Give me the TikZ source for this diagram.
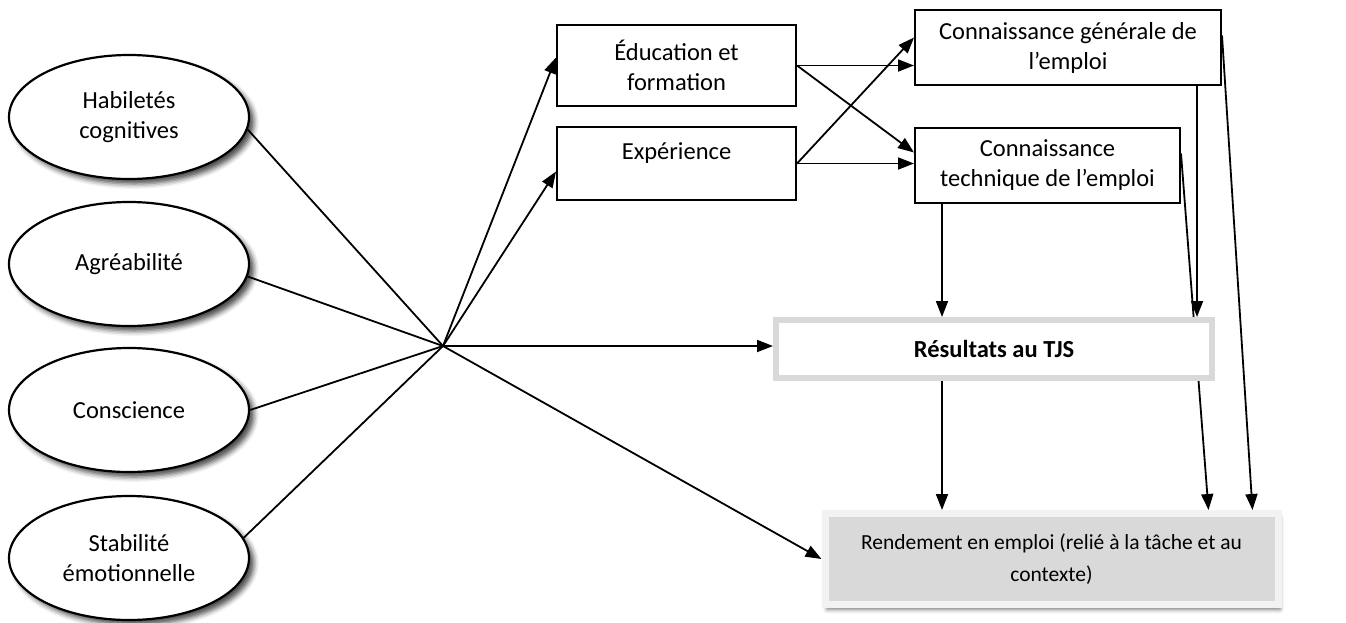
\documentclass[tikz,border=0pt]{standalone}
\usepackage{fontspec}
\setmainfont{Carlito}
\usetikzlibrary{arrows.meta,shapes.geometric,calc,shadows.blur}
\pgfdeclarelayer{background}
\pgfsetlayers{background,main}
\begin{document}
\begin{tikzpicture}[x=1pt,y=-1pt,
  font=\fontsize{24.5}{30}\selectfont,
  trait/.style={ellipse,draw,line width=2.2pt,fill=white,minimum width=240pt,minimum height=124pt,inner sep=0pt,align=center,
    blur shadow={shadow xshift=5pt,shadow yshift=-5pt,shadow blur radius=5pt,shadow opacity=70}},
  boxn/.style={rectangle,draw,line width=2pt,fill=white,align=center,inner sep=0pt},
  conn/.style={line width=1.8pt},
  arr/.style={conn,-{Triangle[length=16pt,width=12pt]}},
]
\useasboundingbox (0,0) rectangle (1346,622);

\node[trait] (e1) at (129,117) {Habiletés\\cognitives};
\node[trait] (e2) at (129,264) {Agréabilité};
\node[trait] (e3) at (129,410) {Conscience};
\node[trait] (e4) at (129,558) {Stabilité\\émotionnelle};
\coordinate (hub) at (443,346);

\node[boxn,minimum width=239pt,minimum height=81pt] (edu) at (676.5,65.5) {Éducation et\\formation};
\node[boxn,minimum width=239pt,minimum height=73pt] (exp) at (676.5,163.5) {\raisebox{10pt}[\height][\depth]{Expérience}};
\node[boxn,minimum width=306pt,minimum height=75pt] (cg) at (1068,47.5) {Connaissance générale de\\l’emploi};
\node[boxn,minimum width=265pt,minimum height=75pt] (ct) at (1047.5,165.5) {Connaissance\\technique de l’emploi};

\node[rectangle,draw=black!15,line width=6pt,fill=white,minimum width=436pt,minimum height=58pt,
  font=\fontsize{24.5}{30}\selectfont\bfseries] (tjs) at (994,349) {Résultats au TJS};
\node[rectangle,draw=black!5,line width=7pt,fill=black!15,minimum width=453pt,minimum height=91pt,align=center,
  font=\fontsize{21.5}{32}\selectfont,
  blur shadow={shadow xshift=2pt,shadow yshift=-5pt,shadow blur radius=4pt,shadow opacity=55}] (rend) at (1051.5,559)
  {Rendement en emploi (relié à la tâche et au\\contexte)};

\begin{pgfonlayer}{background}
\draw[conn] (e1.-6) -- (hub);
\draw[conn] (e2.-6) -- (hub);
\draw[conn] (e3.east) -- (hub);
\draw[conn] (e4.10) -- (hub);
\draw[arr] (hub) -- ($(edu.west)+(0,-8)$);
\draw[arr] (hub) -- ($(exp.west)+(0,8)$);
\draw[arr] (hub) -- (hub -| tjs.west);
\draw[arr] (hub) -- (rend.west);
\draw[arr] (edu.east) -- (edu.east -| cg.west);
\draw[arr] (edu.east) -- ($(ct.west)+(0,-13)$);
\draw[arr] (exp.east) -- ($(cg.west)+(0,-10)$);
\draw[arr] (exp.east) -- (exp.east -| ct.west);
\coordinate (x1) at ($(ct.south west)+(28,0)$);
\coordinate (x2) at ($(cg.south west)+(283,0)$);
\draw[arr] (x1) -- (x1 |- tjs.north);
\draw[arr] (x2) -- (x2 |- tjs.north);
\draw[arr] (tjs.south -| x1) -- (rend.north -| x1);
\draw[arr] ($(ct.east)+(0,-12)$) -- ($(rend.north west)+(387,0)$);
\draw[arr] ($(cg.east)+(0,-12)$) -- ($(rend.north west)+(431,0)$);
\end{pgfonlayer}
\end{tikzpicture}
\end{document}
